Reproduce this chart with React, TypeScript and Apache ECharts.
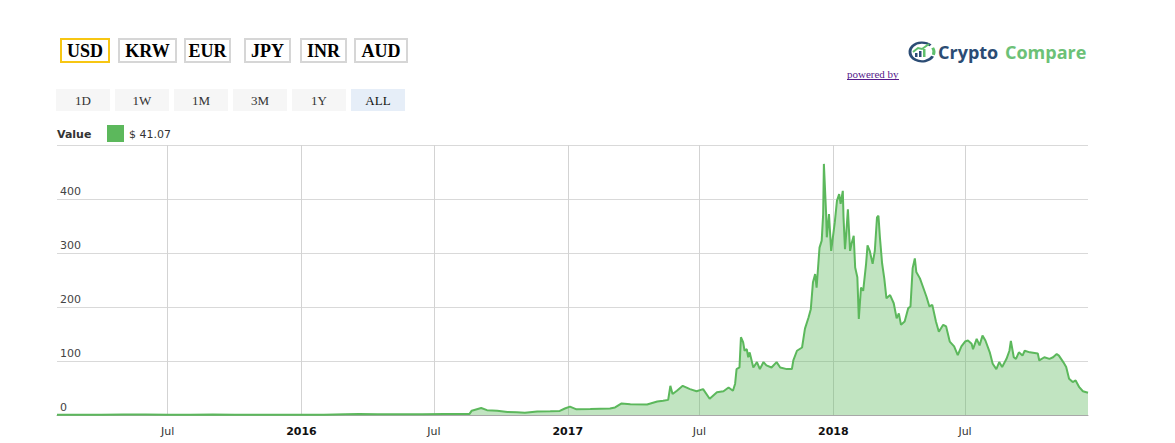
import React, { useEffect, useRef } from "react";
import * as echarts from "echarts";

const currencies = ["USD", "KRW", "EUR", "JPY", "INR", "AUD"];
const ranges = ["1D", "1W", "1M", "3M", "1Y", "ALL"];
const legendLabel = "Value";
const legendValue = "$ 41.07";

const xTickDates = ["2015-07-01", "2016-01-01", "2016-07-01", "2017-01-01", "2017-07-01", "2018-01-01", "2018-07-01"];
const yTicks = [0, 100, 200, 300, 400, 500];

const dates = [
  "2015-01-30", "2015-03-01", "2015-04-01", "2015-05-01", "2015-06-01", "2015-07-01", "2015-08-01", "2015-09-01",
  "2015-10-01", "2015-11-01", "2015-12-01", "2016-01-01", "2016-02-01", "2016-03-01", "2016-03-20", "2016-04-15",
  "2016-05-15", "2016-06-15", "2016-07-15", "2016-08-19", "2016-08-22", "2016-09-04", "2016-09-12", "2016-09-26",
  "2016-10-10", "2016-10-23", "2016-11-03", "2016-11-20", "2016-12-08", "2016-12-21", "2016-12-28", "2017-01-04",
  "2017-01-13", "2017-02-01", "2017-02-28", "2017-03-07", "2017-03-16", "2017-03-28", "2017-04-20", "2017-05-04",
  "2017-05-12", "2017-05-19", "2017-05-22", "2017-05-25", "2017-05-31", "2017-06-08", "2017-06-18", "2017-06-27",
  "2017-07-06", "2017-07-15", "2017-07-25", "2017-08-03", "2017-08-10", "2017-08-16", "2017-08-19", "2017-08-21",
  "2017-08-25", "2017-08-27", "2017-08-30", "2017-09-01", "2017-09-04", "2017-09-06", "2017-09-08", "2017-09-13",
  "2017-09-18", "2017-09-22", "2017-09-27", "2017-10-01", "2017-10-08", "2017-10-15", "2017-10-20", "2017-10-29",
  "2017-11-05", "2017-11-07", "2017-11-12", "2017-11-19", "2017-11-23", "2017-11-28", "2017-12-01", "2017-12-04",
  "2017-12-07", "2017-12-09", "2017-12-13", "2017-12-16", "2017-12-18", "2017-12-19", "2017-12-22", "2017-12-23",
  "2017-12-26", "2017-12-29", "2018-01-03", "2018-01-06", "2018-01-09", "2018-01-11", "2018-01-14", "2018-01-15",
  "2018-01-17", "2018-01-19", "2018-01-21", "2018-01-24", "2018-01-26", "2018-01-29", "2018-01-31", "2018-02-03",
  "2018-02-05", "2018-02-08", "2018-02-11", "2018-02-15", "2018-02-17", "2018-02-20", "2018-02-24", "2018-02-27",
  "2018-03-02", "2018-03-04", "2018-03-06", "2018-03-09", "2018-03-12", "2018-03-15", "2018-03-20", "2018-03-25",
  "2018-03-29", "2018-04-01", "2018-04-04", "2018-04-09", "2018-04-14", "2018-04-17", "2018-04-20", "2018-04-23",
  "2018-04-25", "2018-04-30", "2018-05-04", "2018-05-09", "2018-05-13", "2018-05-17", "2018-05-22", "2018-05-26",
  "2018-06-01", "2018-06-05", "2018-06-10", "2018-06-16", "2018-06-21", "2018-06-26", "2018-07-01", "2018-07-05",
  "2018-07-10", "2018-07-12", "2018-07-17", "2018-07-21", "2018-07-25", "2018-07-29", "2018-08-04", "2018-08-08",
  "2018-08-13", "2018-08-17", "2018-08-21", "2018-08-27", "2018-08-31", "2018-09-02", "2018-09-06", "2018-09-09",
  "2018-09-13", "2018-09-18", "2018-09-21", "2018-09-28", "2018-10-09", "2018-10-11", "2018-10-18", "2018-10-25",
  "2018-10-30", "2018-11-04", "2018-11-07", "2018-11-13", "2018-11-17", "2018-11-21", "2018-11-26", "2018-11-30",
  "2018-12-05", "2018-12-10", "2018-12-17",
];

const values = [
  0.45, 0.5, 0.6, 0.85, 0.75, 0.55, 0.5, 0.7,
  0.5, 0.45, 0.5, 0.45, 0.5, 1.2, 1.7, 1.2,
  1.3, 1.6, 2.0, 2, 8, 13, 9, 8,
  5.5, 5, 4, 6.5, 7, 7.5, 12, 15.5,
  10.5, 11, 12, 14, 21.5, 20, 19.5, 25,
  26.5, 28, 54, 39, 45, 54, 48, 44,
  48, 30, 42, 44, 51, 45, 58, 85,
  88, 144, 135, 119, 122, 107, 116, 88,
  98, 85, 98, 92, 88, 98, 88, 85,
  85, 101, 119, 125, 160, 181, 196, 246,
  261, 236, 310, 323, 372, 465, 375, 329,
  372, 304, 357, 397, 409, 391, 415, 366,
  307, 341, 381, 304, 317, 332, 273, 255,
  178, 236, 230, 280, 314, 304, 280, 304,
  366, 369, 329, 281, 253, 216, 222, 207,
  179, 188, 167, 173, 198, 201, 272, 290,
  265, 253, 238, 219, 201, 204, 173, 154,
  167, 164, 136, 127, 111, 127, 136, 138,
  132, 122, 141, 129, 147, 138, 116, 95,
  85, 98, 89, 104, 119, 137, 107, 104,
  116, 110, 119, 116, 114, 101, 107, 104,
  107, 113, 110, 98, 89, 67, 61, 64,
  51.5, 44, 41.07,
];

const xMin = "2015-01-30";
const xMax = "2018-12-17";

const ts = (s: string) => new Date(s + "T00:00:00Z").getTime();

export default function App() {
  const ref = useRef<HTMLDivElement>(null);

  useEffect(() => {
    if (!ref.current) return;
    const chart = echarts.init(ref.current, null, { renderer: "svg" });

    const seriesData = dates.map((d, i) => [ts(d), values[i]]);
    const tickValues = xTickDates.map(ts);

    const curBoxes = [
      { x: 61, w: 48 },
      { x: 119, w: 57 },
      { x: 185, w: 45 },
      { x: 245, w: 45 },
      { x: 301, w: 45 },
      { x: 355, w: 52 },
    ];
    const rangeBoxes = [56, 115, 174, 233, 292, 351];

    const graphics: any[] = [];
    currencies.forEach((c, i) => {
      const b = curBoxes[i];
      graphics.push({
        type: "rect",
        shape: { x: b.x, y: 39, width: b.w, height: 23 },
        style: { fill: "#fff", stroke: i === 0 ? "#f7c613" : "#d6d6d6", lineWidth: 2 },
      });
      graphics.push({
        type: "text",
        x: b.x + b.w / 2,
        y: 51,
        style: {
          text: c,
          font: 'bold 18px "Liberation Serif"',
          fill: "#000",
          align: "center",
          verticalAlign: "middle",
        },
      });
    });
    ranges.forEach((r, i) => {
      const x = rangeBoxes[i];
      graphics.push({
        type: "rect",
        shape: { x, y: 89, width: 54, height: 22 },
        style: { fill: i === 5 ? "#e6eef8" : "#f6f6f6" },
      });
      graphics.push({
        type: "text",
        x: x + 27,
        y: 100,
        style: {
          text: r,
          font: '13px "Liberation Serif"',
          fill: i === 5 ? "#111" : "#333",
          align: "center",
          verticalAlign: "middle",
        },
      });
    });

    graphics.push({
      type: "text",
      x: 57,
      y: 134,
      style: { text: legendLabel, font: 'bold 11px "DejaVu Sans"', fill: "#333", verticalAlign: "middle" },
    });
    graphics.push({
      type: "rect",
      shape: { x: 107, y: 125, width: 17, height: 17 },
      style: { fill: "#5cb85c" },
    });
    graphics.push({
      type: "text",
      x: 129,
      y: 134,
      style: { text: legendValue, font: '11px "DejaVu Sans"', fill: "#333", verticalAlign: "middle" },
    });

    // logo
    graphics.push({
      type: "arc",
      shape: { cx: 922, cy: 52, r: 12, startAngle: Math.PI * 0.15, endAngle: Math.PI * 1.75 },
      scaleY: 0.78,
      originY: 52,
      originX: 922,
      style: { stroke: "#2b4c74", lineWidth: 3, fill: null },
    });
    graphics.push({
      type: "arc",
      shape: { cx: 922, cy: 52, r: 12, startAngle: Math.PI * 1.85, endAngle: Math.PI * 2.1 },
      scaleY: 0.78,
      originY: 52,
      originX: 922,
      style: { stroke: "#5fbf6c", lineWidth: 3, fill: null },
    });
    graphics.push({ type: "rect", shape: { x: 915, y: 53, width: 2.5, height: 4 }, style: { fill: "#2b4c74" } });
    graphics.push({ type: "rect", shape: { x: 919, y: 51, width: 2.5, height: 6 }, style: { fill: "#2b4c74" } });
    graphics.push({ type: "rect", shape: { x: 923, y: 49, width: 2.5, height: 8 }, style: { fill: "#5fbf6c" } });
    graphics.push({
      type: "polyline",
      shape: { points: [[913, 52], [918, 48], [922, 49], [929, 44]] },
      style: { stroke: "#5fbf6c", lineWidth: 2, fill: null },
    });
    graphics.push({
      type: "text",
      x: 938,
      y: 52,
      style: { text: "Crypto", font: 'bold 18px "Open Sans"', fill: "#2b4c74", verticalAlign: "middle" },
    });
    graphics.push({
      type: "text",
      x: 1005,
      y: 52,
      style: { text: "Compare", font: 'bold 18px "Open Sans"', fill: "#6cc177", verticalAlign: "middle" },
    });
    graphics.push({
      type: "text",
      x: 847,
      y: 74,
      style: { text: "powered by", font: '11px "Liberation Serif"', fill: "#551a8b", verticalAlign: "middle" },
    });
    graphics.push({
      type: "line",
      shape: { x1: 847, y1: 79.5, x2: 899, y2: 79.5 },
      style: { stroke: "#551a8b", lineWidth: 1 },
    });

    chart.setOption({
      animation: false,
      grid: { left: 57, right: 87, top: 145, bottom: 28, containLabel: false },
      xAxis: {
        type: "value",
        min: ts(xMin),
        max: ts(xMax),
        axisLine: { show: true, lineStyle: { color: "#a8a8a8" } },
        axisTick: { show: false, customValues: tickValues },
        splitLine: { show: true, lineStyle: { color: "#d3d3d3", width: 1 } },
        axisLabel: {
          customValues: tickValues,
          margin: 11,
          color: "#333",
          fontFamily: "DejaVu Sans",
          fontSize: 11,
          hideOverlap: false,
          formatter: (v: number) => {
            const d = new Date(v);
            if (d.getUTCMonth() === 0) return "{b|" + d.getUTCFullYear() + "}";
            return "Jul";
          },
          rich: { b: { fontWeight: "bold", fontSize: 11, fontFamily: "DejaVu Sans", color: "#111" } },
        },
      },
      yAxis: {
        type: "value",
        min: yTicks[0],
        max: yTicks[yTicks.length - 1],
        interval: 100,
        axisLine: { show: false },
        axisTick: { show: false },
        splitLine: { show: true, lineStyle: { color: "#d9d9d9", width: 1 } },
        axisLabel: {
          inside: true,
          margin: 3,
          showMaxLabel: false,
          verticalAlign: "bottom",
          padding: [0, 0, 2, 0],
          color: "#444",
          fontFamily: "DejaVu Sans",
          fontSize: 11,
        },
      },
      series: [
        {
          type: "line",
          data: seriesData,
          showSymbol: false,
          symbol: "none",
          lineStyle: { color: "#5cb85c", width: 2 },
          itemStyle: { color: "#5cb85c" },
          areaStyle: { color: "#5cb85c", opacity: 0.38 },
          z: 3,
        },
      ],
      graphic: graphics,
    });

    return () => chart.dispose();
  }, []);

  return (
    <div
      ref={ref}
      style={{ position: "absolute", left: 0, top: 0, width: 1175, height: 443, background: "#fff" }}
    />
  );
}
